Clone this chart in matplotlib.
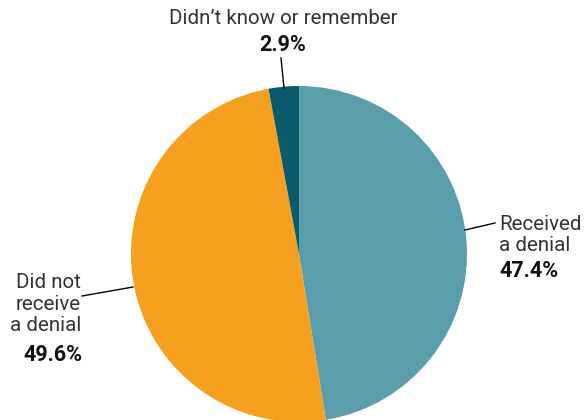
import matplotlib
matplotlib.use("Agg")
import matplotlib.pyplot as plt

# share of respondents by outcome
labels = ["Received\na denial", "Did not\nreceive\na denial", "Didn\u2019t know or remember"]
shares = [47.4, 49.6, 2.9]
colors = ["#5A9DAB", "#F6A01F", "#0B5A6B"]

plt.rcParams["font.family"] = ["Roboto", "DejaVu Sans"]

fig = plt.figure(figsize=(5.87, 4.2), dpi=100)
ax = fig.add_axes([0, 0, 1, 1])

H = 420
cx, cy, r = 299, H - 254, 168
ax.pie(shares, colors=colors, startangle=90, counterclock=False,
       center=(cx, cy), radius=r, normalize=True,
       wedgeprops=dict(linewidth=0))
ax.set_xlim(0, 587)
ax.set_ylim(0, H)
ax.set_aspect("equal")
ax.axis("off")

fs = 14.8
fsb = 15.5
col = "#333333"

# top label: didn't know
ax.plot([281, 284], [H - 58, H - 88], color="black", lw=1)
ax.text(283, H - 19, labels[2], ha="center", va="center", fontsize=fs, color=col)
ax.text(283, H - 45, f"{shares[2]}%", ha="center", va="center",
        fontsize=fsb, fontweight="bold", color="#111111")

# right label: received a denial
ax.plot([465, 495], [H - 230, H - 223], color="black", lw=1)
ax.text(499, H - 235, labels[0], ha="left", va="center", fontsize=fs,
        color=col, linespacing=1.15)
ax.text(499, H - 271, f"{shares[0]}%", ha="left", va="center",
        fontsize=fsb, fontweight="bold", color="#111111")

# left label: did not receive
ax.plot([82, 133], [H - 296, H - 287], color="black", lw=1)
ax.text(81, H - 304, labels[1], ha="right", va="center", fontsize=fs,
        color=col, linespacing=1.15, multialignment="right")
ax.text(82, H - 355, f"{shares[1]}%", ha="right", va="center",
        fontsize=fsb, fontweight="bold", color="#111111")

fig.savefig("out.png", dpi=100)
